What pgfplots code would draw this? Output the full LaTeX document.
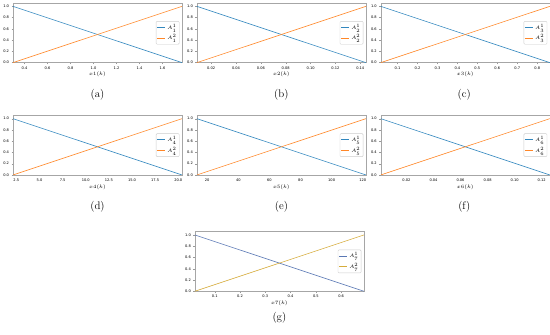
\documentclass[border=0pt]{standalone}
\usepackage{pgfplots}
\pgfplotsset{compat=1.18}
\usepackage{fontspec}
\newfontfamily\dv{DejaVu Sans}
\definecolor{tabblue}{RGB}{50,135,190}
\definecolor{taborange}{RGB}{255,135,40}
\definecolor{sbblue}{RGB}{90,120,180}
\definecolor{sbyellow}{RGB}{214,172,60}
\pgfplotsset{
  dec/.style={/pgf/number format/fixed, /pgf/number format/fixed zerofill, /pgf/number format/precision=#1},
  panel/.style={
    scale only axis, width=170pt, height=60pt,
    anchor=north west,
    ymin=0, ymax=1.06,
    ytick={0,0.2,0.4,0.6,0.8,1.0},
    yticklabel style={dec=1},
    /pgf/number format/assume math mode=true,
    tick label style={font=\dv\fontsize{3.6}{4}\selectfont},
    xticklabel style={yshift=1pt},
    yticklabel style={xshift=1pt},
    label style={font=\fontsize{5.5}{6}\selectfont},
    xlabel style={yshift=4pt},
    axis line style={gray!70, line width=0.5pt},
    tick style={gray!80, line width=0.3pt},
    tick align=outside, major tick length=1.5pt,
    xtick pos=bottom, ytick pos=left,
    scaled x ticks=false,
    legend style={at={(0.985,0.5)}, anchor=east, font=\fontsize{4}{4}\selectfont,
      draw=gray!40, fill=white, rounded corners=1pt, inner sep=0.8pt, row sep=0pt,
      cells={anchor=west}},
    legend image code/.code={\draw[##1] (0pt,0pt) -- (8pt,0pt);},
    every axis plot/.append style={line width=0.6pt},
  }
}
\newcommand{\subcap}[1]{{\fontsize{11}{12}\selectfont #1}}
\begin{document}
\begin{tikzpicture}
\path (0,0) rectangle (550pt,-337pt);
% (a)
\begin{axis}[panel, at={(10pt,-3pt)}, xmin=0.30, xmax=1.77,
  xtick={0.4,0.6,...,1.61},
  xticklabel style={dec=1},
  xlabel={$x1(k)$}]
\addplot[tabblue] coordinates {(0.30,1) (1.77,0)};
\addplot[taborange] coordinates {(0.30,0) (1.77,1)};
\legend{$A^1_1$,$A^2_1$}
\end{axis}
\node at (95pt,-95pt) {\subcap{(a)}};
% (b)
\begin{axis}[panel, at={(195pt,-3pt)}, xmin=0.0085, xmax=0.1445,
  xtick={0.02,0.04,...,0.141},
  xticklabel style={dec=2},
  xlabel={$x2(k)$}]
\addplot[tabblue] coordinates {(0.0085,1) (0.1445,0)};
\addplot[taborange] coordinates {(0.0085,0) (0.1445,1)};
\legend{$A^1_2$,$A^2_2$}
\end{axis}
\node at (280pt,-95pt) {\subcap{(b)}};
% (c)
\begin{axis}[panel, at={(380pt,-3pt)}, xmin=0.016, xmax=0.863,
  xtick={0.1,0.2,...,0.81},
  xticklabel style={dec=1},
  xlabel={$x3(k)$}]
\addplot[tabblue] coordinates {(0.016,1) (0.863,0)};
\addplot[taborange] coordinates {(0.016,0) (0.863,1)};
\legend{$A^1_3$,$A^2_3$}
\end{axis}
\node at (464pt,-95pt) {\subcap{(c)}};
% (d)
\begin{axis}[panel, at={(10pt,-116pt)}, xmin=2.14, xmax=20.4,
  xtick={2.5,5,...,20.1},
  xticklabel style={dec=1},
  xlabel={$x4(k)$}]
\addplot[tabblue] coordinates {(2.14,1) (20.4,0)};
\addplot[taborange] coordinates {(2.14,0) (20.4,1)};
\legend{$A^1_4$,$A^2_4$}
\end{axis}
\node at (95pt,-208pt) {\subcap{(d)}};
% (e)
\begin{axis}[panel, at={(195pt,-116pt)}, xmin=13.4, xmax=122,
  xtick={20,40,...,120},
  xlabel={$x5(k)$}]
\addplot[tabblue] coordinates {(13.4,1) (122,0)};
\addplot[taborange] coordinates {(13.4,0) (122,1)};
\legend{$A^1_5$,$A^2_5$}
\end{axis}
\node at (280pt,-208pt) {\subcap{(e)}};
% (f)
\begin{axis}[panel, at={(380pt,-116pt)}, xmin=0.001, xmax=0.126,
  xtick={0.02,0.04,...,0.121},
  xticklabel style={dec=2},
  xlabel={$x6(k)$}]
\addplot[tabblue] coordinates {(0.001,1) (0.126,0)};
\addplot[taborange] coordinates {(0.001,0) (0.126,1)};
\legend{$A^1_6$,$A^2_6$}
\end{axis}
\node at (464pt,-208pt) {\subcap{(f)}};
% (g)
\begin{axis}[panel, at={(193pt,-233pt)}, xmin=0.0216, xmax=0.69,
  xtick={0.1,0.2,...,0.61},
  xticklabel style={dec=1},
  xlabel={$x7(k)$}]
\addplot[sbblue] coordinates {(0.0216,1) (0.69,0)};
\addplot[sbyellow] coordinates {(0.0216,0) (0.69,1)};
\legend{$A^1_7$,$A^2_7$}
\end{axis}
\node at (278pt,-320pt) {\subcap{(g)}};
\end{tikzpicture}
\end{document}
